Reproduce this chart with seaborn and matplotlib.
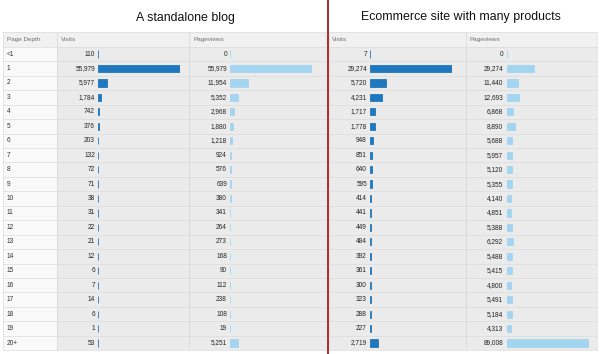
import matplotlib
matplotlib.use("Agg")
import matplotlib.pyplot as plt
import pandas as pd
import seaborn as sns
from matplotlib.patches import Rectangle

# =============================================
# Data (read off the two Google Analytics page depth tables)
depth = ['<1'] + [str(i) for i in range(1, 20)] + ['20+']

blog_visits = [110, 55979, 5977, 1784, 742, 376, 203, 132, 72, 71, 38,
               31, 22, 21, 12, 6, 7, 14, 6, 1, 53]
blog_pageviews = [0, 55979, 11954, 5352, 2968, 1880, 1218, 924, 576, 639, 380,
                  341, 264, 273, 168, 90, 112, 238, 108, 19, 5251]

shop_visits = [7, 29274, 5720, 4231, 1717, 1778, 948, 851, 640, 595, 414,
               441, 449, 484, 392, 361, 300, 323, 288, 227, 2719]
shop_pageviews = [0, 29274, 11440, 12693, 6868, 8890, 5688, 5957, 5120, 5355, 4140,
                  4851, 5388, 6292, 5488, 5415, 4800, 5491, 5184, 4313, 89008]

titles = ['A standalone blog', 'Ecommerce site with many products']

# =============================================
# Layout (pixels)
W, H = 600, 354
row_top = 46.8
row_h = 14.45
header_top = 32
n_rows = len(depth)
row_bottom = row_top + n_rows * row_h
bar_w = 82

visits_color = '#1f78be'
pageviews_color = '#a3d5f0'
cell_color = '#ebebeb'
depth_cell_color = '#f9f9f9'
header_color = '#f1f1f1'
line_color = '#dcdcdc'

sns.set_theme(style="white")
plt.rcParams['font.family'] = ['Liberation Sans', 'DejaVu Sans']

fig = plt.figure(figsize=(W / 100, H / 100), dpi=100)
bg = fig.add_axes([0, 0, 1, 1])
bg.set_xlim(0, W)
bg.set_ylim(H, 0)
bg.set_axis_off()

# columns: (left, right, kind)
columns = [
    (3, 57, 'depth'),
    (57, 189, 'num'),
    (189, 326, 'num'),
    (329, 466, 'num'),
    (466, 597, 'num'),
]
for x0, x1, kind in columns:
    bg.add_patch(Rectangle((x0, header_top), x1 - x0, row_top - header_top,
                           facecolor=header_color, edgecolor='none'))
    bg.add_patch(Rectangle((x0, row_top), x1 - x0, row_bottom - row_top,
                           facecolor=depth_cell_color if kind == 'depth' else cell_color,
                           edgecolor='none'))
    bg.plot([x0, x0], [header_top, row_bottom], color=line_color, lw=0.5)
    bg.plot([x1, x1], [header_top, row_bottom], color=line_color, lw=0.5)

for xa, xb in [(3, 326), (329, 597)]:
    bg.plot([xa, xb], [header_top, header_top], color=line_color, lw=0.5)
    for i in range(n_rows + 1):
        y = row_top + i * row_h
        bg.plot([xa, xb], [y, y], color=line_color, lw=0.5)

# header text
hy = (header_top + row_top) / 2
head_kw = dict(fontsize=4.6, color='#707070', va='center', ha='left')
bg.text(7, hy, 'Page Depth', **head_kw)
bg.text(61, hy, 'Visits', **head_kw)
bg.text(193, hy, 'Pageviews', **head_kw)
bg.text(332, hy, 'Visits', **head_kw)
bg.text(469, hy, 'Pageviews', **head_kw)

# titles
bg.text(185, 18, titles[0], fontsize=8.9, color='#111111', ha='center', va='center')
bg.text(461, 17, titles[1], fontsize=8.9, color='#111111', ha='center', va='center')

# row labels and numbers
num_kw = dict(fontsize=4.7, color='#222222', va='center', ha='right')
for i, d in enumerate(depth):
    y = row_top + (i + 0.5) * row_h
    bg.text(7, y, d, fontsize=4.7, color='#333333', va='center', ha='left')
    bg.text(95, y, f"{blog_visits[i]:,}", **num_kw)
    bg.text(227, y, f"{blog_pageviews[i]:,}", **num_kw)
    bg.text(367, y, f"{shop_visits[i]:,}", **num_kw)
    bg.text(503, y, f"{shop_pageviews[i]:,}", **num_kw)

# red divider
bg.plot([328, 328], [0, H], color='#a51c1c', lw=1.3)

# bars, one small axes per bar column
bar_cols = [
    (98, blog_visits, visits_color),
    (230, blog_pageviews, pageviews_color),
    (370, shop_visits, visits_color),
    (507, shop_pageviews, pageviews_color),
]
for x0, vals, color in bar_cols:
    ax = fig.add_axes([x0 / W, (H - row_bottom) / H, bar_w / W, (row_bottom - row_top) / H])
    df = pd.DataFrame({'depth': depth, 'value': vals})
    sns.barplot(data=df, x='value', y='depth', order=depth, orient='h', ax=ax,
                color=color, saturation=1, width=0.5, linewidth=0.6, edgecolor=color)
    ax.set_xlim(0, max(vals))
    ax.set_ylim(n_rows - 0.5, -0.5)
    ax.set_facecolor('none')
    ax.set_axis_off()

plt.savefig('out.png', dpi=100)
plt.close()
